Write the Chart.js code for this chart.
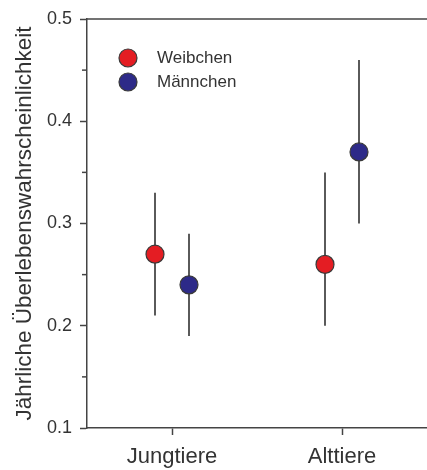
<!DOCTYPE html>
<html lang="de">
<head>
<meta charset="UTF-8">
<title>Jährliche Überlebenswahrscheinlichkeit</title>
<script src="https://cdn.jsdelivr.net/npm/chart.js"></script>
<style>
    body {
        margin: 0;
        background: #ffffff;
    }
    .chart-box {
        width: 427px;
        height: 470px;
    }
</style>
</head>
<body>
<div class="chart-box">
    <canvas id="chart" width="427" height="470"></canvas>
</div>
<script>
// Daten
const categories = ['Jungtiere', 'Alttiere'];
const seriesNames = ['Weibchen', 'Männchen'];
const weibchenValues = [0.27, 0.26];
const weibchenLow = [0.21, 0.20];
const weibchenHigh = [0.33, 0.35];
const maennchenValues = [0.24, 0.37];
const maennchenLow = [0.19, 0.30];
const maennchenHigh = [0.29, 0.46];
const yTicks = [0.1, 0.2, 0.3, 0.4, 0.5];
const yMinorTicks = [0.15, 0.25, 0.35, 0.45];

const farben = ['#e41d23', '#2d2a88'];
const versatz = [-0.1, 0.1];
const fontName = '"Liberation Sans", Arial, sans-serif';

function punkte(werte, low, high, v) {
    return werte.map((y, i) => ({ x: i + v, y: y, lo: low[i], hi: high[i] }));
}

// Fehlerbalken, Rahmen oben, kleine Ticks und Legende
const extras = {
    id: 'extras',
    beforeDatasetsDraw(chart) {
        const ctx = chart.ctx;
        const xs = chart.scales.x;
        const ys = chart.scales.y;
        ctx.save();
        ctx.strokeStyle = '#5a5a5a';
        ctx.lineWidth = 2;
        chart.data.datasets.forEach(ds => {
            ds.data.forEach(p => {
                const px = xs.getPixelForValue(p.x);
                ctx.beginPath();
                ctx.moveTo(px, ys.getPixelForValue(p.lo));
                ctx.lineTo(px, ys.getPixelForValue(p.hi));
                ctx.stroke();
            });
        });
        ctx.restore();
    },
    afterDraw(chart) {
        const ctx = chart.ctx;
        const a = chart.chartArea;
        const ys = chart.scales.y;
        ctx.save();
        ctx.strokeStyle = '#444444';
        ctx.lineWidth = 1.5;
        ctx.beginPath();
        ctx.moveTo(a.left, a.top);
        ctx.lineTo(a.right, a.top);
        ctx.stroke();
        yMinorTicks.forEach(v => {
            const py = ys.getPixelForValue(v);
            ctx.beginPath();
            ctx.moveTo(a.left - 5, py);
            ctx.lineTo(a.left, py);
            ctx.stroke();
        });
        // Legende
        ctx.font = '17px ' + fontName;
        ctx.textBaseline = 'middle';
        seriesNames.forEach((name, i) => {
            const ly = 58 + i * 24;
            ctx.beginPath();
            ctx.arc(128, ly, 9, 0, Math.PI * 2);
            ctx.fillStyle = farben[i];
            ctx.fill();
            ctx.lineWidth = 1.2;
            ctx.strokeStyle = '#3a3a3a';
            ctx.stroke();
            ctx.fillStyle = '#333333';
            ctx.fillText(name, 157, ly);
        });
        ctx.restore();
    }
};

new Chart(document.getElementById('chart'), {
    type: 'scatter',
    data: {
        datasets: [
            {
                label: seriesNames[0],
                data: punkte(weibchenValues, weibchenLow, weibchenHigh, versatz[0]),
                backgroundColor: farben[0],
                borderColor: '#3a3a3a',
                borderWidth: 1.2,
                pointRadius: 9,
                pointHoverRadius: 9
            },
            {
                label: seriesNames[1],
                data: punkte(maennchenValues, maennchenLow, maennchenHigh, versatz[1]),
                backgroundColor: farben[1],
                borderColor: '#3a3a3a',
                borderWidth: 1.2,
                pointRadius: 9,
                pointHoverRadius: 9
            }
        ]
    },
    options: {
        responsive: false,
        animation: false,
        layout: { autoPadding: false, padding: { top: 19, right: 0, left: 0, bottom: 0 } },
        plugins: {
            legend: { display: false },
            tooltip: { enabled: false }
        },
        scales: {
            x: {
                type: 'linear',
                min: -0.5,
                max: 1.5,
                afterBuildTicks: s => { s.ticks = categories.map((c, i) => ({ value: i })); },
                afterFit: s => { s.height = 42; s.paddingLeft = 0; s.paddingRight = 0; },
                ticks: {
                    callback: v => categories[v],
                    color: '#333333',
                    font: { family: fontName, size: 22 },
                    padding: 9,
                    maxRotation: 0
                },
                grid: {
                    drawOnChartArea: false,
                    tickLength: 7,
                    color: '#444444',
                    tickWidth: 1.5
                },
                border: { color: '#444444', width: 1.5 }
            },
            y: {
                min: 0.1,
                max: 0.5,
                afterBuildTicks: s => { s.ticks = yTicks.map(v => ({ value: v })); },
                afterFit: s => { s.width = 87; s.paddingTop = 0; s.paddingBottom = 0; },
                ticks: {
                    callback: v => v.toFixed(1),
                    color: '#333333',
                    font: { family: fontName, size: 18 },
                    padding: 8
                },
                grid: {
                    drawOnChartArea: false,
                    tickLength: 7,
                    color: '#444444',
                    tickWidth: 1.5
                },
                border: { color: '#444444', width: 1.5 },
                title: {
                    display: true,
                    text: 'Jährliche Überlebenswahrscheinlichkeit',
                    color: '#333333',
                    font: { family: fontName, size: 22.5 },
                    padding: { top: 11, bottom: 0 }
                }
            }
        }
    },
    plugins: [extras]
});
</script>
</body>
</html>
